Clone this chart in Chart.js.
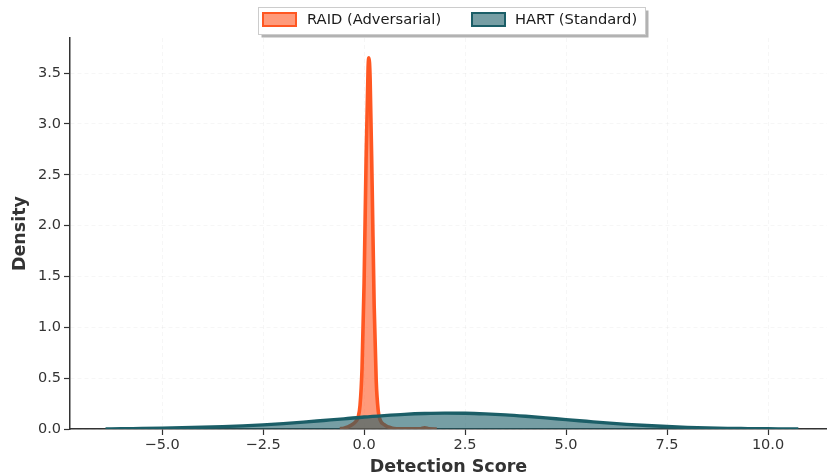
<!DOCTYPE html>
<html><head><meta charset="utf-8">
<script src="https://cdn.jsdelivr.net/npm/chart.js@4"></script>
<style>html,body{margin:0;padding:0;background:#fff}</style>
</head><body>
<canvas id="c" width="827" height="475" style="width:827px;height:475px;display:block"></canvas>
<script>
// ---- data ----
const seriesNames = ['RAID (Adversarial)', 'HART (Standard)'];
const raidX = [-0.6, -0.5, -0.4, -0.3, -0.2, -0.15, -0.1, -0.05, 0.0, 0.05, 0.1, 0.12, 0.15, 0.2, 0.25, 0.3, 0.35, 0.4, 0.5, 0.6, 0.7, 0.8, 1.0, 1.4, 1.5, 1.6, 1.8];
const raidDensity = [0.003, 0.008, 0.02, 0.042, 0.076, 0.113, 0.232, 0.60, 1.43, 2.65, 3.56, 3.65, 3.44, 2.39, 1.21, 0.48, 0.18, 0.088, 0.042, 0.02, 0.008, 0.003, 0.001, 0.002, 0.012, 0.002, 0.0];
const hartX = [-6.4, -6.0, -5.5, -5.0, -4.5, -4.0, -3.5, -3.0, -2.5, -2.0, -1.5, -1.0, -0.5, 0.0, 0.5, 1.0, 1.5, 2.0, 2.5, 3.0, 3.5, 4.0, 4.5, 5.0, 5.5, 6.0, 6.5, 7.0, 7.5, 8.0, 8.5, 9.0, 9.5, 10.0, 10.5, 10.75];
const hartDensity = [0.0, 0.003, 0.005, 0.008, 0.012, 0.017, 0.023, 0.031, 0.041, 0.053, 0.068, 0.084, 0.100, 0.118, 0.132, 0.144, 0.152, 0.156, 0.155, 0.149, 0.139, 0.125, 0.109, 0.092, 0.076, 0.060, 0.046, 0.034, 0.024, 0.016, 0.010, 0.006, 0.004, 0.002, 0.001, 0.0];
const xTicks = [-5, -2.5, 0, 2.5, 5, 7.5, 10];
const yTicks = [0, 0.5, 1.0, 1.5, 2.0, 2.5, 3.0, 3.5];
const xTitle = 'Detection Score';
const yTitle = 'Density';

const raidColor = '#FF5722', raidFill = 'rgba(255,87,34,0.6)';
const hartColor = '#1B5E67', hartFill = 'rgba(27,94,103,0.6)';
const FONT = "'DejaVu Sans', sans-serif";
const fmt = v => v.toFixed(1).replace('-', '\u2212');

const legendPlugin = {
  id: 'boxLegend',
  afterDraw(chart) {
    const ctx = chart.ctx;
    const ds = chart.data.datasets;
    const fx = 258.5, fy = 7.5, fw = 387, fh = 27;
    ctx.save();
    ctx.fillStyle = 'rgba(0,0,0,0.30)';
    ctx.fillRect(fx + 3, fy + 3, fw, fh);
    ctx.fillStyle = '#ffffff';
    ctx.fillRect(fx, fy, fw, fh);
    ctx.strokeStyle = '#cccccc';
    ctx.lineWidth = 1;
    ctx.strokeRect(fx, fy, fw, fh);
    const items = [{bx: 263, tx: 307}, {bx: 472, tx: 515}];
    ctx.font = '14.7px ' + FONT;
    ctx.textBaseline = 'middle';
    ctx.textAlign = 'left';
    ds.forEach((d, i) => {
      const it = items[i];
      ctx.fillStyle = d.backgroundColor;
      ctx.fillRect(it.bx, 13, 33, 13);
      ctx.strokeStyle = d.borderColor;
      ctx.lineWidth = 2;
      ctx.strokeRect(it.bx, 13, 33, 13);
      ctx.fillStyle = '#1a1a1a';
      ctx.fillText(d.label, it.tx, 20);
    });
    ctx.restore();
  }
};

new Chart(document.getElementById('c'), {
  type: 'line',
  data: {
    datasets: [
      { label: seriesNames[0], data: raidX.map((x, i) => ({x, y: raidDensity[i]})),
        borderColor: raidColor, backgroundColor: raidFill, borderWidth: 3.6,
        fill: 'origin', pointRadius: 0, cubicInterpolationMode: 'monotone', order: 1 },
      { label: seriesNames[1], data: hartX.map((x, i) => ({x, y: hartDensity[i]})),
        borderColor: hartColor, backgroundColor: hartFill, borderWidth: 3.4,
        fill: 'origin', pointRadius: 0, cubicInterpolationMode: 'monotone', order: 0 }
    ]
  },
  options: {
    responsive: false, animation: false, devicePixelRatio: 1,
    layout: { padding: { top: 38, right: 0, left: 0, bottom: 0 } },
    plugins: { legend: { display: false }, tooltip: { enabled: false } },
    scales: {
      x: {
        type: 'linear', min: -7.28, max: 11.46,
        afterBuildTicks: s => { s.ticks = xTicks.map(v => ({value: v})); },
        afterFit: s => { s.height = 46; },
        ticks: { callback: v => fmt(v), font: { family: FONT, size: 14.5 }, color: '#333', padding: 2, maxRotation: 0 },
        grid: { color: 'rgba(0,0,0,0.035)', tickColor: '#333', tickLength: 6, tickWidth: 1.2 },
        border: { color: '#333', width: 1.5, dash: [4, 3] },
        title: { display: true, text: xTitle, font: { family: FONT, size: 17.5, weight: 'bold' }, color: '#333', padding: { top: 0, bottom: -3 } }
      },
      y: {
        type: 'linear', min: 0, max: 3.845,
        afterBuildTicks: s => { s.ticks = yTicks.map(v => ({value: v})); },
        afterFit: s => { s.width = 70; },
        ticks: { callback: v => fmt(v), font: { family: FONT, size: 14.5 }, color: '#333', padding: 3 },
        grid: { color: 'rgba(0,0,0,0.035)', tickColor: '#333', tickLength: 6, tickWidth: 1.2 },
        border: { color: '#333', width: 1.5, dash: [4, 3] },
        title: { display: true, text: yTitle, font: { family: FONT, size: 17.5, weight: 'bold' }, color: '#333', padding: { top: 10, bottom: 0 } }
      }
    }
  },
  plugins: [legendPlugin]
});
</script>
</body></html>
